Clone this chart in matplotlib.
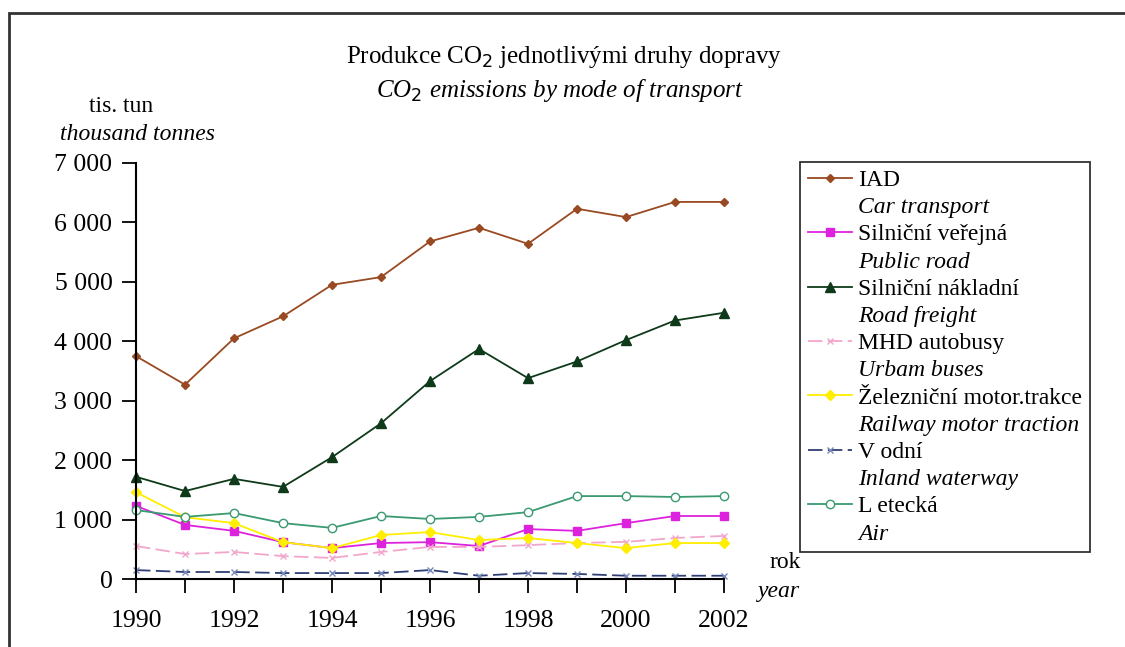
import matplotlib.pyplot as plt
from matplotlib.lines import Line2D
from matplotlib.patches import Rectangle

plt.rc("font", family="Liberation Serif")

years = list(range(1990, 2003))

# CO2 emissions, thousand tonnes
iad = [3750, 3270, 4050, 4420, 4950, 5080, 5680, 5910, 5640, 6230, 6090, 6345, 6345]
silnicni_verejna = [1230, 910, 810, 620, 520, 605, 620, 555, 840, 810, 940, 1060, 1060]
silnicni_nakladni = [1720, 1480, 1685, 1550, 2050, 2620, 3330, 3870, 3380, 3660, 4020, 4350, 4480]
mhd_autobusy = [555, 420, 455, 385, 355, 455, 540, 540, 570, 605, 625, 690, 725]
zeleznicni = [1460, 1040, 940, 620, 520, 740, 790, 655, 690, 605, 520, 605, 605]
vodni = [150, 118, 118, 100, 100, 100, 150, 55, 100, 85, 55, 55, 55]
letecka = [1160, 1045, 1110, 940, 860, 1060, 1010, 1045, 1125, 1395, 1395, 1380, 1395]

series = [
    ("IAD", "Car transport", iad,
     dict(color="#9A4A22", marker="D", markersize=4.5, linestyle="-")),
    ("Silniční veřejná", "Public road", silnicni_verejna,
     dict(color="#DD22DD", marker="s", markersize=6, linestyle="-")),
    ("Silniční nákladní", "Road freight", silnicni_nakladni,
     dict(color="#0F3A1A", marker="^", markersize=7, linestyle="-")),
    ("MHD autobusy", "Urbam buses", mhd_autobusy,
     dict(color="#F2A6CC", marker="x", markersize=4, linestyle=(0, (8, 3)))),
    ("Železniční motor.trakce", "Railway motor traction", zeleznicni,
     dict(color="#FFEE00", marker="D", markersize=5, linestyle="-")),
    ("V odní", "Inland waterway", vodni,
     dict(color="#2E3F75", marker="x", markersize=4, linestyle=(0, (8, 3)),
          markeredgecolor="#7788BB")),
    ("L etecká", "Air", letecka,
     dict(color="#3A9A70", marker="o", markersize=6, linestyle="-",
          markerfacecolor="white")),
]

W, H = 1125, 647
fig = plt.figure(figsize=(W / 100, H / 100), dpi=100)
ax = fig.add_axes([136 / W, (H - 579) / H, (724 - 136) / W, (579 - 163) / H])

handles, labels = [], []
for cz, en, vals, style in series:
    (ln,) = ax.plot(years, vals, linewidth=1.3, clip_on=False, **style)
    handles += [ln, Line2D([], [], linestyle="none")]
    labels += [cz, en]

ax.set_xlim(1990, 2002)
ax.set_ylim(0, 7000)
ax.set_xticks(years)
ax.set_xticklabels([str(y) if y % 2 == 0 else "" for y in years])
ax.set_yticks(range(0, 7001, 1000))
ax.set_yticklabels([f"{v:,}".replace(",", " ") for v in range(0, 7001, 1000)])
ax.tick_params(direction="out", length=10, width=1.3, labelsize=18.5)
ax.tick_params(axis="y", pad=7)
ax.tick_params(axis="x", pad=12)
for side in ("top", "right"):
    ax.spines[side].set_visible(False)
for side in ("left", "bottom"):
    ax.spines[side].set_linewidth(1.5)

fig.text(564 / W, 1 - 57 / H, "Produkce CO$_2$ jednotlivými druhy dopravy",
         ha="center", va="center", fontsize=18)
fig.text(560 / W, 1 - 90 / H, "CO$_2$ emissions by mode of transport",
         ha="center", va="center", fontsize=18, style="italic")
fig.text(121 / W, 1 - 106 / H, "tis. tun", ha="center", va="center", fontsize=17)
fig.text(138 / W, 1 - 135 / H, "thousand tonnes", ha="center", va="center",
         fontsize=17, style="italic")
fig.text(770 / W, 1 - 563 / H, "rok", ha="left", va="center", fontsize=17)
fig.text(758 / W, 1 - 591 / H, "year", ha="left", va="center", fontsize=17,
         style="italic")

leg = fig.legend(handles, labels, loc="upper left",
                 bbox_to_anchor=(800 / W, 1 - 162 / H), fontsize=17,
                 frameon=True, fancybox=False, edgecolor="black",
                 handlelength=1.9, handletextpad=0.25, labelspacing=0.24,
                 borderpad=0.32, borderaxespad=0)
leg.get_frame().set_linewidth(1.3)
for t in leg.get_texts()[1::2]:
    t.set_style("italic")

fig.add_artist(Rectangle((9 / W, -0.1), 2, 1 - 13 / H + 0.1,
                         transform=fig.transFigure, fill=False,
                         edgecolor="#333333", linewidth=2))

fig.savefig("out.png", dpi=100)
